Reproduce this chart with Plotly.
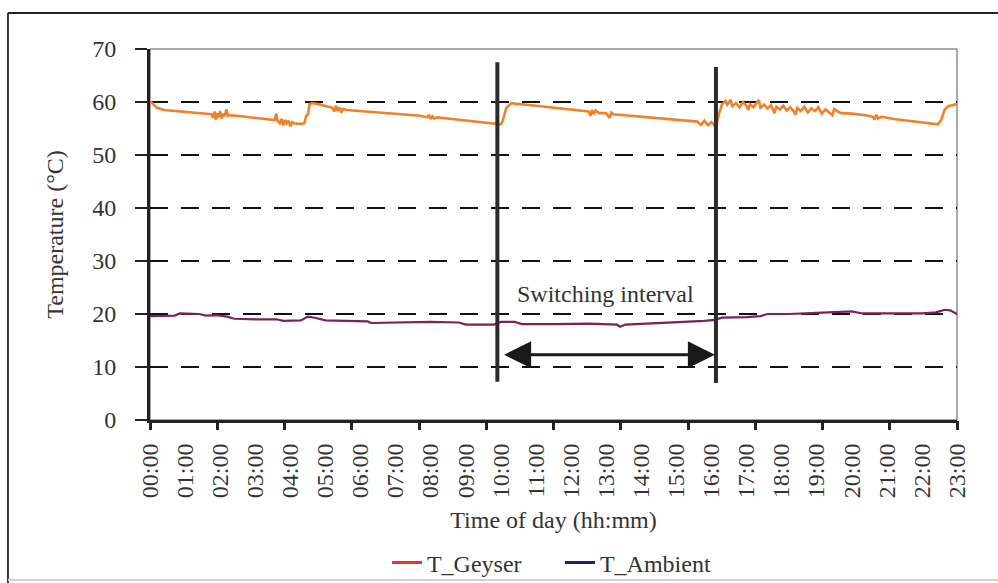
import numpy as np
import plotly.graph_objects as go

# Time of day in hours and measured temperatures (°C)
geyser_hours = [
    0.00, 0.08, 0.20, 0.40, 0.80, 1.20, 1.60, 1.75, 1.80, 1.84, 1.88, 1.92, 1.96, 2.00,
    2.04, 2.08, 2.12, 2.18, 2.22, 2.30, 2.60, 3.00, 3.40, 3.55, 3.60, 3.63, 3.70, 3.75,
    3.80, 3.85, 3.90, 3.95, 4.00, 4.05, 4.10, 4.20, 4.35, 4.40, 4.45, 4.50, 4.55, 4.62,
    4.80, 5.00, 5.20, 5.25, 5.30, 5.35, 5.40, 5.45, 5.50, 5.60, 6.00, 7.00, 7.70, 7.90,
    7.95, 8.00, 8.05, 8.10, 8.20, 8.60, 9.00, 9.50, 9.90, 10.00, 10.05, 10.15, 10.30,
    10.40, 11.00, 12.00, 12.50, 12.55, 12.60, 12.65, 12.70, 12.80, 13.00, 13.10, 13.15,
    13.20, 14.00, 15.00, 15.60, 15.70, 15.80, 15.90, 16.00, 16.10, 16.15, 16.22, 16.30,
    16.40, 16.45, 16.55, 16.60, 16.70, 16.80, 16.90, 17.00, 17.05, 17.10, 17.20, 17.30,
    17.35, 17.40, 17.50, 17.60, 17.70, 17.80, 17.85, 17.95, 18.05, 18.15, 18.25, 18.35,
    18.40, 18.45, 18.55, 18.65, 18.75, 18.85, 18.95, 19.05, 19.15, 19.25, 19.35, 19.45,
    19.50, 19.60, 19.70, 20.00, 20.40, 20.60, 20.65, 20.70, 20.75, 20.85, 21.20, 21.80,
    22.30, 22.45, 22.55, 22.65, 22.75, 22.90, 23.00,
]
t_geyser = [
    60.2, 59.6, 58.9, 58.5, 58.3, 58.0, 57.8, 57.7, 57.0, 58.2, 56.6, 57.9, 57.2, 58.3,
    56.9, 57.8, 57.3, 58.6, 57.4, 57.5, 57.3, 57.0, 56.7, 56.6, 57.8, 56.5, 56.0, 56.8,
    55.6, 56.6, 56.0, 56.5, 55.4, 56.2, 56.0, 55.9, 55.9, 56.0, 57.4, 57.6, 59.6, 59.8,
    59.6, 59.2, 58.9, 58.2, 59.3, 58.3, 59.0, 58.0, 58.7, 58.5, 58.3, 57.8, 57.4, 57.1,
    57.6, 56.8, 57.3, 56.9, 57.1, 56.8, 56.5, 56.1, 55.8, 55.8, 56.4, 58.8, 59.8,
    59.7, 59.3, 58.6, 58.2, 57.4, 58.5, 57.7, 58.4, 57.9, 57.9, 57.0, 58.0,
    57.7, 57.2, 56.6, 56.3, 55.7, 56.5, 55.6, 56.2, 55.5, 56.0, 57.8, 59.5,
    60.2, 59.5, 60.4, 59.2, 59.8, 59.0, 60.0, 59.3, 58.5, 59.6, 59.0, 59.8,
    60.4, 58.9, 59.5, 58.8, 59.4, 57.9, 59.1, 58.6, 59.3, 58.4, 59.0, 58.2,
    57.6, 58.9, 58.3, 59.1, 58.0, 58.8, 58.3, 59.0, 57.8, 58.6, 58.1, 57.5,
    58.7, 58.2, 57.9, 57.8, 57.5, 57.2, 56.7, 57.6, 56.9, 57.2, 56.8, 56.3,
    55.9, 55.8, 56.6, 58.6, 59.2, 59.4, 59.6,
]

ambient_hours = [
    0.00, 0.50, 0.70, 0.85, 1.40, 1.60, 1.90, 2.20, 2.40, 3.00, 3.60, 3.80, 4.30, 4.50,
    4.70, 5.00, 5.60, 6.20, 6.30, 7.00, 8.00, 8.80, 9.00, 9.80, 10.00, 10.40, 10.60,
    11.50, 12.50, 13.30, 13.40, 13.55, 14.20, 14.60, 15.00, 15.30, 15.80, 16.10, 16.30,
    17.00, 17.40, 17.60, 18.20, 19.00, 19.60, 20.00, 20.30, 21.00, 21.50, 22.00, 22.40,
    22.65, 22.80, 23.00,
]
t_ambient = [
    19.6, 19.6, 19.7, 20.1, 20.0, 19.7, 19.8, 19.5, 19.1, 19.0, 19.0, 18.7, 18.8, 19.5,
    19.3, 18.8, 18.7, 18.6, 18.3, 18.4, 18.5, 18.4, 18.0, 18.0, 18.5, 18.5, 18.1,
    18.1, 18.2, 18.0, 17.6, 18.0, 18.2, 18.4, 18.4, 18.6, 18.7, 18.9, 19.3,
    19.4, 19.6, 20.0, 20.0, 20.2, 20.3, 20.5, 20.1, 20.1, 20.2, 20.1, 20.3,
    20.8, 20.7, 20.0,
]

hour_labels = [f"{h:02d}:00" for h in range(24)]
temp_ticks = [0, 10, 20, 30, 40, 50, 60, 70]
grid_ticks = [10, 20, 30, 40, 50, 60]

# Geyser element switched off between these times
switch_off_start = 9.9
switch_off_end = 16.13

FONT = "Liberation Serif"
FS = 24
TEXT = "#333333"
AXIS = "#222222"

fig = go.Figure()

fig.add_trace(go.Scatter(
    x=geyser_hours, y=t_geyser, mode="lines", name="T_Geyser",
    line=dict(color="#f0812c", width=2.6), showlegend=False,
))
fig.add_trace(go.Scatter(
    x=ambient_hours, y=t_ambient, mode="lines", name="T_Ambient",
    line=dict(color="#7b2352", width=2.2), showlegend=False,
))
# legend keys
fig.add_trace(go.Scatter(x=[None], y=[None], mode="lines", name="T_Geyser",
                         line=dict(color="#e8342a", width=3)))
fig.add_trace(go.Scatter(x=[None], y=[None], mode="lines", name="T_Ambient",
                         line=dict(color="#1e2060", width=3)))
# carrier for the overlay axes (tick marks and dashed grid)
fig.add_trace(go.Scatter(x=[None], y=[None], xaxis="x2", yaxis="y2",
                         showlegend=False, hoverinfo="skip"))

fig.update_layout(
    width=998, height=583,
    margin=dict(l=150, r=41, t=49, b=163, autoexpand=False),
    paper_bgcolor="white", plot_bgcolor="white",
    font=dict(family=FONT, size=FS, color=TEXT),
    xaxis=dict(
        range=[0, 23], tickvals=list(range(24)), ticktext=hour_labels,
        tickangle=-90, ticks="outside", ticklen=11, tickcolor="rgba(0,0,0,0)",
        showline=True, linewidth=3, linecolor=AXIS, showgrid=False, zeroline=False,
        tickfont=dict(family=FONT, size=FS, color=TEXT),
        title=dict(text="Time of day (hh:mm)", standoff=14,
                   font=dict(family=FONT, size=FS, color=TEXT)),
        automargin=False,
    ),
    xaxis2=dict(
        overlaying="x", anchor="y2", side="bottom", range=[0, 23],
        tickvals=list(np.linspace(0, 23, 13)), ticks="outside", ticklen=9,
        tickwidth=3, tickcolor=AXIS, showticklabels=False, showline=False,
        showgrid=False, zeroline=False,
    ),
    yaxis=dict(
        range=[0, 70], tickvals=temp_ticks, ticks="outside", ticklen=12,
        tickwidth=2, tickcolor=AXIS, showline=True, linewidth=3, linecolor=AXIS,
        showgrid=False, zeroline=False, ticklabelstandoff=14,
        tickfont=dict(family=FONT, size=FS, color=TEXT),
        title=dict(text="Temperature (°C)", standoff=22,
                   font=dict(family=FONT, size=FS, color=TEXT)),
        automargin=False,
    ),
    yaxis2=dict(
        overlaying="y", anchor="x2", side="left", range=[0, 70],
        tickvals=grid_ticks, ticks="", showticklabels=False, showline=False,
        showgrid=True, gridcolor="#111111", gridwidth=2, griddash="18px,13px",
        zeroline=False,
    ),
    legend=dict(
        orientation="h", x=0.508, xanchor="center", y=-0.385, yanchor="middle",
        font=dict(family=FONT, size=FS, color=TEXT), itemwidth=30,
        entrywidth=128, bgcolor="rgba(0,0,0,0)",
    ),
    showlegend=True,
)

shapes = [
    # plot area frame
    dict(type="rect", xref="paper", yref="paper", x0=0, y0=0, x1=1, y1=1,
         line=dict(color="#5a4a5e", width=1), layer="below"),
    # switching boundaries
    dict(type="line", xref="x", yref="y", x0=switch_off_start, x1=switch_off_start,
         y0=7.2, y1=67.5, line=dict(color="#2b2b2b", width=4)),
    dict(type="line", xref="x", yref="y", x0=switch_off_end, x1=switch_off_end,
         y0=7.0, y1=66.6, line=dict(color="#2b2b2b", width=4)),
    # outer border of the figure
    dict(type="line", xref="paper", yref="paper", x0=-0.176, x1=1.06, y0=1.097, y1=1.097,
         line=dict(color="#222222", width=2)),
    dict(type="line", xref="paper", yref="paper", x0=-0.176, x1=-0.176, y0=-0.44, y1=1.097,
         line=dict(color="#333333", width=2)),
    dict(type="line", xref="paper", yref="paper", x0=-0.176, x1=1.06, y0=-0.431, y1=-0.431,
         line=dict(color="#d0d0d0", width=2)),
]
fig.update_layout(shapes=shapes)

fig.add_annotation(
    x=switch_off_end - 0.03, y=12.3, ax=switch_off_start + 0.15, ay=12.3,
    xref="x", yref="y", axref="x", ayref="y", text="", showarrow=True,
    arrowhead=2, arrowside="end+start", arrowsize=1.8, arrowwidth=3,
    arrowcolor="#1a1a1a",
)
fig.add_annotation(
    x=12.97, y=23.8, xref="x", yref="y", text="Switching interval",
    showarrow=False, font=dict(family=FONT, size=FS, color=TEXT),
)

fig.write_html("out.html")
